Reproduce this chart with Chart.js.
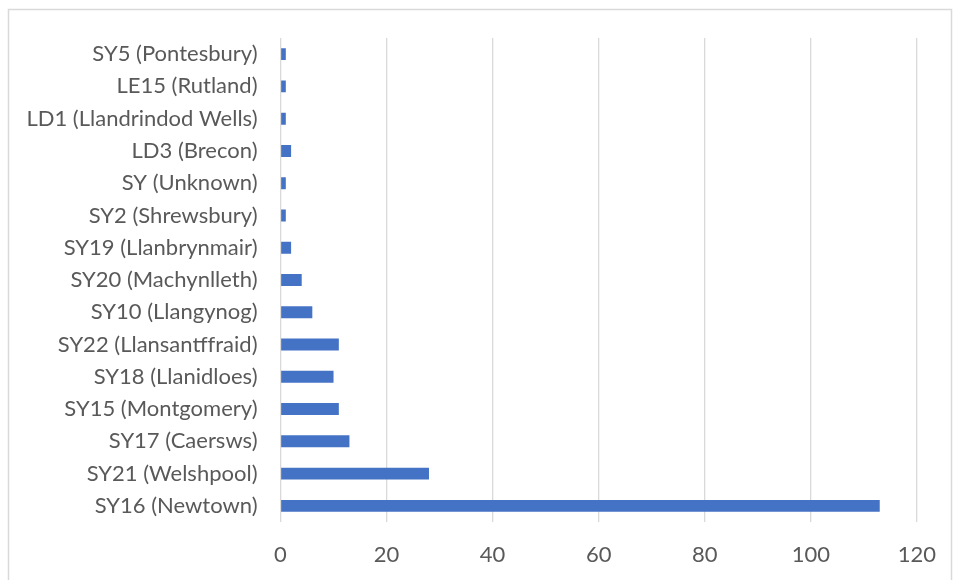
<!DOCTYPE html>
<html>
<head>
<meta charset="utf-8">
<script src="https://cdn.jsdelivr.net/npm/chart.js@4/dist/chart.umd.min.js"></script>
<style>
  html, body { margin: 0; padding: 0; background: #fff; }
  #wrap { width: 956px; height: 580px; position: relative; }
</style>
</head>
<body>
<div id="wrap"><canvas id="myChart" width="956" height="580"></canvas></div>
<script>
// categories, top to bottom as in the picture
const postcodes = [
  'SY5 (Pontesbury)',
  'LE15 (Rutland)',
  'LD1 (Llandrindod Wells)',
  'LD3 (Brecon)',
  'SY (Unknown)',
  'SY2 (Shrewsbury)',
  'SY19 (Llanbrynmair)',
  'SY20 (Machynlleth)',
  'SY10 (Llangynog)',
  'SY22 (Llansantffraid)',
  'SY18 (Llanidloes)',
  'SY15 (Montgomery)',
  'SY17 (Caersws)',
  'SY21 (Welshpool)',
  'SY16 (Newtown)'
];
const counts = [1, 1, 1, 2, 1, 1, 2, 4, 6, 11, 10, 11, 13, 28, 113];
const xTicks = [0, 20, 40, 60, 80, 100, 120];

const textColor = '#595959';
const fontFamily = 'Lato, "Open Sans", sans-serif';

// outer chart border like the office chart frame
const frame = {
  id: 'frame',
  beforeDraw(chart) {
    const c = chart.ctx;
    c.save();
    c.strokeStyle = '#d9d9d9';
    c.lineWidth = 1.5;
    c.strokeRect(8.5, 9.5, 943, 580);
    c.restore();
  }
};

const ctx = document.getElementById('myChart').getContext('2d');
const myChart = new Chart(ctx, {
  type: 'bar',
  data: {
    labels: postcodes,
    datasets: [{
      data: counts,
      backgroundColor: '#4472C4',
      borderWidth: 0,
      barPercentage: 0.37,
      categoryPercentage: 1
    }]
  },
  options: {
    indexAxis: 'y',
    responsive: false,
    animation: false,
    layout: { padding: { top: 38, right: 35, left: 0, bottom: 0 } },
    plugins: {
      legend: { display: false },
      tooltip: { enabled: false }
    },
    scales: {
      x: {
        min: 0,
        max: 120,
        afterFit(scale) { scale.height = 58; },
        afterBuildTicks(scale) { scale.ticks = xTicks.map(v => ({ value: v })); },
        grid: { color: '#d9d9d9', lineWidth: 1.3, drawTicks: false },
        border: { display: false },
        ticks: { color: textColor, padding: 20, font: { family: fontFamily, size: 22 } }
      },
      y: {
        afterFit(scale) { scale.width = 280.5; },
        grid: { display: false, drawTicks: false },
        border: { display: false },
        ticks: { color: textColor, padding: 23, autoSkip: false, font: { family: fontFamily, size: 22 } }
      }
    }
  },
  plugins: [frame]
});
</script>
</body>
</html>
